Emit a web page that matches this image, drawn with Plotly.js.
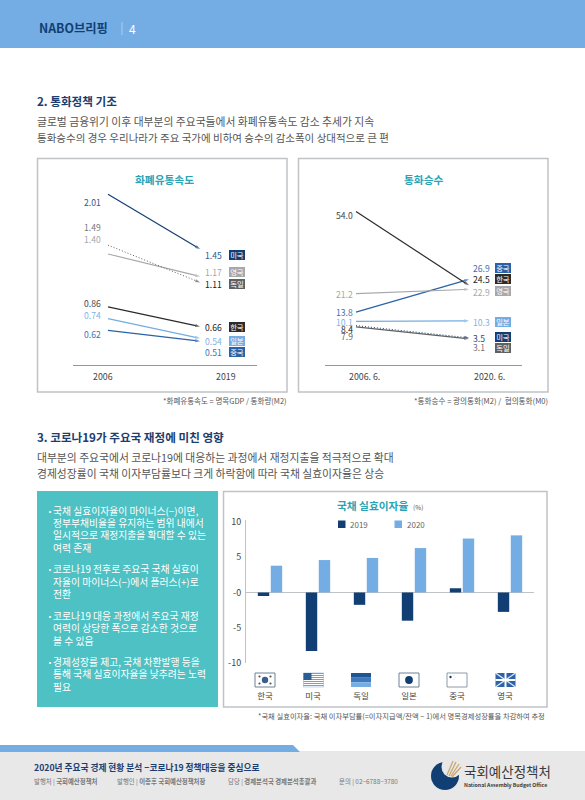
<!DOCTYPE html>
<html><head><meta charset="utf-8">
<script src="https://cdn.plot.ly/plotly-3.0.1.min.js"></script>
<style>html,body{margin:0;padding:0;background:#fff}#c{width:585px;height:800px}</style>
</head><body><div id="c"></div>
<script>
// ---------- data ----------
var velocityPeriods = ['2006', '2019'];
var velocityCountries = ['미국', '영국', '독일', '한국', '일본', '중국'];
var velocityStart = [2.01, 1.40, 1.49, 0.86, 0.74, 0.62];
var velocityEnd = [1.45, 1.17, 1.11, 0.66, 0.54, 0.51];

var multiplierPeriods = ['2006. 6.', '2020. 6.'];
var multiplierCountries = ['중국', '한국', '영국', '일본', '미국', '독일'];
var multiplierStart = [13.8, 54.0, 21.2, 10.1, 8.4, 7.9];
var multiplierEnd = [26.9, 24.5, 22.9, 10.3, 3.5, 3.1];

var rateCountries = ['한국', '미국', '독일', '일본', '중국', '영국'];
var rate2019 = [-0.5, -8.3, -1.75, -4.0, 0.6, -2.75];
var rate2020 = [3.8, 4.6, 4.9, 6.3, 7.65, 8.1];
var rateTicks = [-10, -5, 0, 5, 10];
var rateTickText = ['-10', '-5', '-0', '5', '10'];

var bulletLines = [
  ['국채 실효이자율이 마이너스(−)이면,', '정부부채비율을 유지하는 범위 내에서', '일시적으로 재정지출을 확대할 수 있는', '여력 존재'],
  ['코로나19 전후로 주요국 국채 실효이', '자율이 마이너스(−)에서 플러스(+)로', '전환'],
  ['코로나19 대응 과정에서 주요국 재정', '여력이 상당한 폭으로 감소한 것으로', '볼 수 있음'],
  ['경제성장률 제고, 국채 차환발행 등을', '통해 국채 실효이자율을 낮추려는 노력', '필요']
];

// ---------- styles ----------
var FONT = '"Noto Sans CJK KR","Noto Sans",sans-serif';
var NAVY = '#123F73', SKY = '#74ADE3', MID = '#2A62A8', TEAL = '#2AA3B5';
var W = 585, H = 800;
var countryColor = {'미국': NAVY, '영국': '#A6A8AB', '독일': '#5F6062', '한국': '#2B2B2B', '일본': SKY, '중국': MID};
var labelColorStart = {'미국': '#2C5C94', '영국': '#A6A8AB', '독일': '#77787A', '한국': '#444', '일본': '#7FB3E6', '중국': '#3D72B5'};

function px(x) { return x / W; }
function py(y) { return 1 - y / H; }
var annotations = [], shapes = [];
function T(text, x, y, size, color, anchor, bold, extra) {
  var a = {text: bold ? '<b>' + text + '</b>' : text, x: px(x), y: py(y), xref: 'paper', yref: 'paper',
    xanchor: anchor || 'left', yanchor: 'middle', showarrow: false, borderpad: 0, borderwidth: 0,
    font: {family: FONT, size: size, color: color}};
  for (var k in (extra || {})) a[k] = extra[k];
  annotations.push(a);
}
function R(x0, y0, x1, y1, fill, line, lw, layer) {
  shapes.push({type: 'rect', xref: 'paper', yref: 'paper', x0: px(x0), x1: px(x1), y0: py(y0), y1: py(y1),
    fillcolor: fill || 'rgba(0,0,0,0)', line: {color: line || 'rgba(0,0,0,0)', width: lw || 0}, layer: layer || 'below'});
}
function C(cx, cy, r, fill, line, lw) {
  shapes.push({type: 'circle', xref: 'paper', yref: 'paper', x0: px(cx - r), x1: px(cx + r), y0: py(cy + r), y1: py(cy - r),
    fillcolor: fill, line: {color: line || 'rgba(0,0,0,0)', width: lw || 0}, layer: 'above'});
}
function L(x0, y0, x1, y1, color, lw) {
  shapes.push({type: 'line', xref: 'paper', yref: 'paper', x0: px(x0), x1: px(x1), y0: py(y0), y1: py(y1),
    line: {color: color, width: lw}, layer: 'above'});
}
function P(points, fill) {
  var d = points.map(function (p, i) { return (i ? 'L' : 'M') + px(p[0]) + ',' + py(p[1]); }).join(' ') + ' Z';
  shapes.push({type: 'path', path: d, xref: 'paper', yref: 'paper', fillcolor: fill, line: {width: 0}, layer: 'below'});
}

// ---------- page furniture ----------
R(0, 0, W, 48, SKY);
T('NABO브리핑', 39, 28, 12.3, '#123F73', 'left', true);
L(122, 22, 122, 35, '#A9CDEF', 1);
T('4', 129, 28, 12, '#fff');

T('2. 통화정책 기조', 37, 101, 11.6, '#1B3E70', 'left', true);
T('글로벌 금융위기 이후 대부분의 주요국들에서 화폐유통속도 감소 추세가 지속', 37, 121, 10.8, '#555');
T('통화승수의 경우 우리나라가 주요 국가에 비하여 승수의 감소폭이 상대적으로 큰 편', 37, 137, 10.5, '#555');

T('3. 코로나19가 주요국 재정에 미친 영향', 37, 437, 11.6, '#1B3E70', 'left', true);
T('대부분의 주요국에서 코로나19에 대응하는 과정에서 재정지출을 적극적으로 확대', 37, 457, 10.8, '#555');
T('경제성장률이 국채 이자부담률보다 크게 하락함에 따라 국채 실효이자율은 상승', 37, 473, 10.8, '#555');

// panels
R(37.5, 158.5, 287, 392, '#fff', '#BFC3C6', 1.5);
R(298.5, 158.5, 548, 392, '#fff', '#BFC3C6', 1.5);
R(223.5, 491.5, 547, 707, '#fff', '#BFC3C6', 1.5);
R(37, 491, 218, 707, '#4DC1C3');

T('화폐유통속도', 164.5, 179, 10.7, TEAL, 'center', true);
T('통화승수', 423, 179, 10.7, TEAL, 'center', true);
T('국채 실효이자율', 337, 506, 10.7, TEAL, 'left', true);
T('(%)', 413, 507, 6.5, '#555');

T('*화폐유통속도 = 명목GDP / 통화량(M2)', 287, 400, 7.5, '#555', 'right');
T('*통화승수 = 광의통화(M2) /  협의통화(M0)', 548, 400, 7.6, '#555', 'right');
T('*국채 실효이자율: 국채 이자부담률(=이자지급액/잔액 − 1)에서 명목경제성장률을 차감하여 추정', 545, 716, 7.3, '#555', 'right');

// bullets
var bulletY = [[511, 523, 535, 548], [569, 582, 594], [616, 628, 641], [662, 674, 687]];
bulletLines.forEach(function (g, i) {
  T('·', 47, bulletY[i][0], 10, '#fff', 'left', true);
  g.forEach(function (s, j) { T(s, 53, bulletY[i][j], 9.8, '#fff', 'left', false); });
});

// footer
R(0, 751, W, H, '#E8E8E8');
P([[0, 745], [293, 745], [300, 752], [0, 752]], SKY);
T('2020년 주요국 경제 현황 분석 −코로나19 정책대응을 중심으로', 34, 767, 8.7, '#1B3E70', 'left', true);
var fy = 781;
T('발행처 | <b>국회예산정책처</b>', 34, fy, 6.4, '#777');
T('발행인 | <b>이종후 국회예산정책처장</b>', 117, fy, 6.4, '#777');
T('담당 | <b>경제분석국 경제분석총괄과</b>', 228, fy, 6.4, '#777');
T('문의 | 02−6788−3780', 339, fy, 6.4, '#777');
// logo
C(445, 776, 14, NAVY);
C(452, 767, 10.5, '#E8E8E8');
[[447, 775, 453, 761], [449, 776, 456, 762], [451, 776, 459, 764], [452, 777, 461, 767]].forEach(function (l) { L(l[0], l[1], l[2], l[3], '#C9A66B', 1.2); });
T('국회예산정책처', 464, 771, 13.5, '#3A3A3C', 'left', false);
T('National Assembly Budget Office', 464, 785, 5.2, '#3A3A3C', 'left', true);

// ---------- axes geometry ----------
function dom(a, b, total) { return [a / total, b / total]; }
function domY(top, bottom) { return [1 - bottom / H, 1 - top / H]; }
function catRange(pLeft, pRight, p0, p1) { var u = p1 - p0; return [(pLeft - p0) / u, (pRight - p0) / u]; }

var traces = [];
function slope(xa, ya, periods, names, a, b, dotted) {
  names.forEach(function (n, i) {
    var isDot = n === dotted;
    traces.push({type: 'scatter', mode: 'lines+markers', xaxis: xa, yaxis: ya, x: periods, y: [a[i], b[i]],
      showlegend: false, hoverinfo: 'skip', cliponaxis: false,
      line: {color: countryColor[n], width: isDot ? 1 : 1.2, dash: isDot ? '1px,2px' : 'solid'},
      marker: {symbol: 'arrow', angleref: 'previous', size: [0, 5], color: countryColor[n], line: {width: 0}}});
  });
}
slope('x', 'y', velocityPeriods, velocityCountries, velocityStart, velocityEnd, '독일');
slope('x2', 'y2', multiplierPeriods, multiplierCountries, multiplierStart, multiplierEnd, '미국');

// bars
traces.push({type: 'bar', name: '2019', showlegend: false, xaxis: 'x3', yaxis: 'y3', x: rateCountries, y: rate2019, marker: {color: NAVY}, hoverinfo: 'skip'});
traces.push({type: 'bar', name: '2020', showlegend: false, xaxis: 'x3', yaxis: 'y3', x: rateCountries, y: rate2020, marker: {color: SKY}, hoverinfo: 'skip'});
// legend key
R(338, 520.5, 345.5, 528, NAVY, null, 0, 'above');
T('2019', 350, 524, 8, '#666');
R(394.5, 520.5, 402, 528, SKY, null, 0, 'above');
T('2020', 407, 524, 8, '#666');

// slope-chart labels
function fmt2(v) { return v.toFixed(2); }
function fmt1(v) { return v.toFixed(1); }
function B(n, cx, cy) {
  T(n, cx, cy, 7.3, '#fff', 'center', false, {bgcolor: countryColor[n], width: 16, height: 10, align: 'center', valign: 'middle'});
}
var vStartY = [202, 239, 227, 303, 315, 334];
var vEndY = [255, 272, 284, 327, 341, 352];
velocityCountries.forEach(function (n, i) {
  T(fmt2(velocityStart[i]), 101, vStartY[i], 8.6, labelColorStart[n], 'right');
  T(fmt2(velocityEnd[i]), 222, vEndY[i], 8.6, n === '한국' || n === '독일' ? '#222' : labelColorStart[n], 'right');
  B(n, 237, vEndY[i]);
});
var mStartY = [312, 215, 294, 322, 329, 336];
var mEndY = [268, 279, 292, 322, 338, 347];
var mBadgeY = [268, 279, 291, 322, 337, 348];
multiplierCountries.forEach(function (n, i) {
  T(fmt1(multiplierStart[i]), 353, mStartY[i], 8.6, n === '독일' ? '#666' : (n === '미국' ? '#222' : labelColorStart[n]), 'right');
  T(fmt1(multiplierEnd[i]), 473, mEndY[i], 8.6, n === '한국' ? '#222' : (n === '미국' ? '#1F4E86' : (n === '독일' ? '#777' : labelColorStart[n])), 'left');
  B(n, 503, mBadgeY[i]);
});
T(velocityPeriods[0], 103, 376, 8.8, '#444', 'center');
T(velocityPeriods[1], 226, 376, 8.8, '#444', 'center');
T(multiplierPeriods[0], 364, 376, 8.8, '#444', 'center');
T(multiplierPeriods[1], 489, 376, 8.8, '#444', 'center');

// flags
var FW = 20, FT = 673, FB = 687;
var flagX = [255, 303.5, 351, 399, 447, 495.5];
// Korea
R(flagX[0], FT, flagX[0] + FW, FB, '#fff', '#6F8296', 1, 'above');
C(flagX[0] + 10, FT + 7, 3.2, '#3A5F8E');
[[3, 3.5], [17, 3.5], [3, 10.5], [17, 10.5]].forEach(function (p) { C(flagX[0] + p[0] + (p[0] < 10 ? 1.5 : -1.5), FT + p[1], 1.1, '#555'); });
// USA
R(flagX[1], FT, flagX[1] + FW, FB, '#fff', SKY, 0.5, 'above');
for (var s = 0; s < 7; s++) { R(flagX[1], FT + s * 2, flagX[1] + FW, FT + s * 2 + 1, '#6F9FD3', null, 0, 'above'); }
R(flagX[1], FT, flagX[1] + 8, FT + 7, '#2C5C94', null, 0, 'above');
// Germany
R(flagX[2], FT, flagX[2] + FW, FT + 4.7, '#1F5592', null, 0, 'above');
R(flagX[2], FT + 4.7, flagX[2] + FW, FT + 9.3, '#3E79BD', null, 0, 'above');
R(flagX[2], FT + 9.3, flagX[2] + FW, FB, '#74ADE3', null, 0, 'above');
// Japan
R(flagX[3], FT, flagX[3] + FW, FB, '#fff', '#6F8296', 1, 'above');
C(flagX[3] + 10, FT + 7, 3.9, NAVY);
// China
R(flagX[4], FT, flagX[4] + FW, FB, '#fff', '#8C9AA8', 1, 'above');
C(flagX[4] + 3.5, FT + 4, 1.2, NAVY);
[[7, 2.5], [8, 4.5], [7, 6.5]].forEach(function (p) { C(flagX[4] + p[0], FT + p[1], 0.4, '#8FB3D9'); });
// UK
R(flagX[5], FT, flagX[5] + FW, FB, '#2C62A8', null, 0, 'above');
L(flagX[5], FT, flagX[5] + FW, FB, '#DCE7F3', 1.4);
L(flagX[5] + FW, FT, flagX[5], FB, '#DCE7F3', 1.4);
L(flagX[5] + 10, FT, flagX[5] + 10, FB, '#fff', 2);
L(flagX[5], FT + 7, flagX[5] + FW, FT + 7, '#fff', 2);

// ---------- layout ----------
var noTicks = {showticklabels: false, ticks: '', showgrid: false, zeroline: false, fixedrange: true};
var layout = {
  width: W, height: H, margin: {l: 0, r: 0, t: 0, b: 0},
  paper_bgcolor: '#fff', plot_bgcolor: 'rgba(0,0,0,0)',
  font: {family: FONT}, showlegend: false,
  barmode: 'group', bargap: 0.46, bargroupgap: 0.12,
  xaxis: Object.assign({}, noTicks, {type: 'category', anchor: 'y', domain: dom(73, 257, W), range: catRange(73, 257, 108, 200), showline: true, linecolor: '#8C99A6', linewidth: 1}),
  yaxis: Object.assign({}, noTicks, {anchor: 'x', domain: domY(185, 365), range: [0.267, 2.104], showline: false}),
  xaxis2: Object.assign({}, noTicks, {type: 'category', anchor: 'y2', domain: dom(325, 522, W), range: catRange(325, 522, 356, 469), showline: true, linecolor: '#8C99A6', linewidth: 1}),
  yaxis2: Object.assign({}, noTicks, {anchor: 'x2', domain: domY(200, 365), range: [-7.36, 58.64], showline: false}),
  xaxis3: {type: 'category', anchor: 'y3', domain: dom(246, 534, W), range: [-0.5, 5.5], showgrid: false, zeroline: false, fixedrange: true,
    ticks: '', ticklabelstandoff: 26, ticklabelshift: -5, tickfont: {family: FONT, size: 8.5, color: '#444'}, showline: false},
  yaxis3: {anchor: 'x3', domain: domY(520, 663), range: [-10, 10.28], tickvals: rateTicks, ticktext: rateTickText, ticks: '', showgrid: false,
    zeroline: true, zerolinecolor: '#BFC3C6', zerolinewidth: 1.5, showline: true, linecolor: '#BFC3C6', linewidth: 1, fixedrange: true,
    tickfont: {family: FONT, size: 9, color: '#444'}, ticklabelstandoff: 2},
  annotations: annotations, shapes: shapes
};
Plotly.newPlot('c', traces, layout, {displayModeBar: false, staticPlot: true});
</script></body></html>
